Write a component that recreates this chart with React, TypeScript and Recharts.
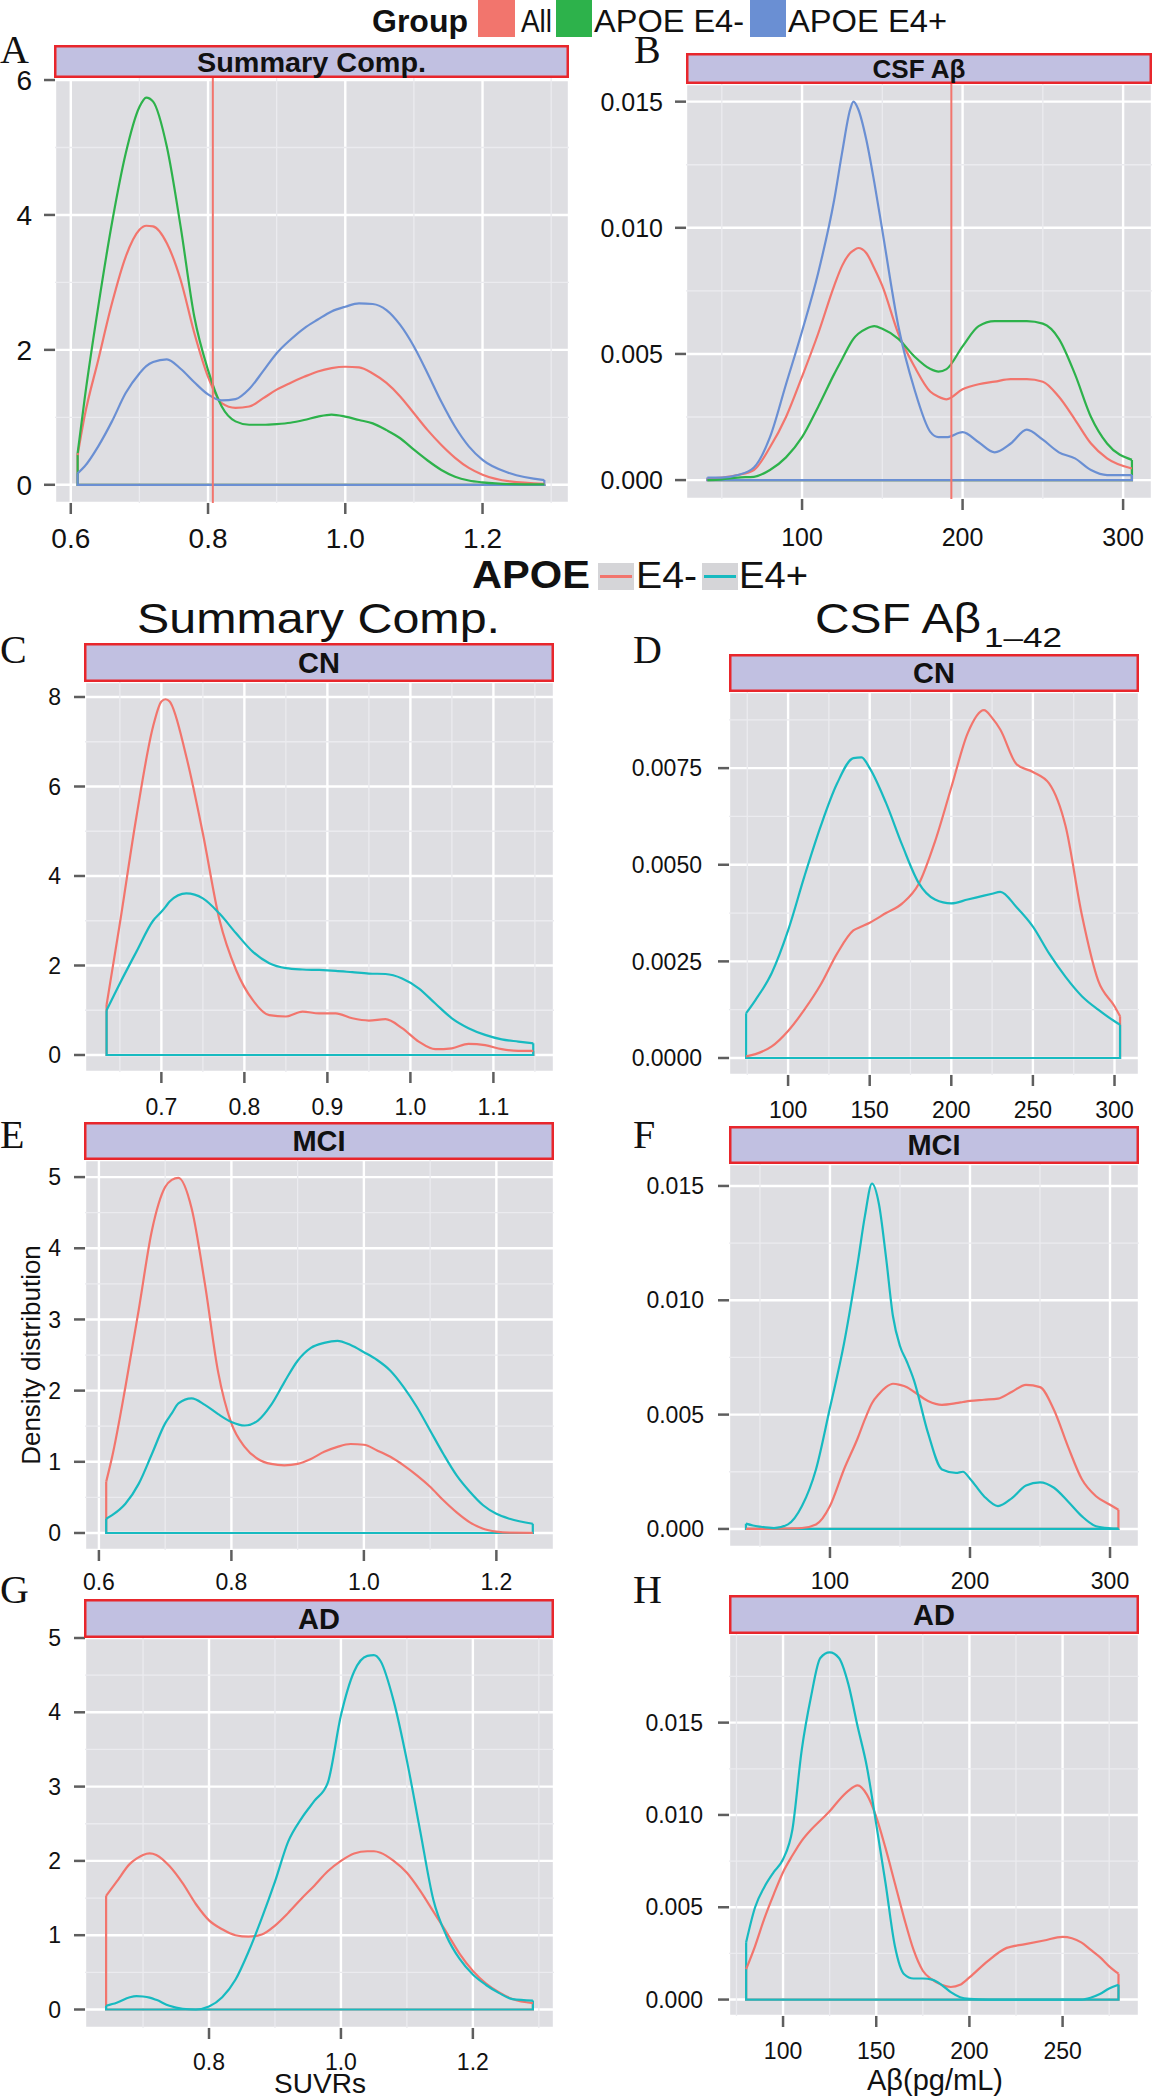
import React from "react";
import { LineChart, Line, XAxis, YAxis, CartesianGrid, ReferenceLine } from "recharts";

const RED = "#F2756D";
const GREEN = "#2DB24B";
const BLUE = "#6A8FD3";
const TEAL = "#17BAC0";
const PANEL_BG = "#DEDEE2";
const MINOR = "#EBEBEF";
const STRIP_BG = "#C1C0E1";
const STRIP_BORDER = "#E8262C";
const TICK = "#5E5E5E";
const INK = "#111111";
const SANS = "'Liberation Sans', Arial, Helvetica, sans-serif";
const SERIF = "'Liberation Serif', 'Times New Roman', serif";

// A: Summary Comp., all groups
const aX = [0.61, 0.62, 0.64, 0.66, 0.68, 0.70, 0.71, 0.72, 0.74, 0.76, 0.78, 0.80, 0.82, 0.84, 0.86, 0.88, 0.90, 0.92, 0.94, 0.96, 0.98, 1.00, 1.02, 1.04, 1.06, 1.08, 1.10, 1.12, 1.14, 1.16, 1.18, 1.20, 1.24, 1.29];
const aAll = [0.44, 1.01, 1.85, 2.69, 3.38, 3.78, 3.84, 3.83, 3.58, 3.04, 2.25, 1.60, 1.21, 1.14, 1.16, 1.28, 1.41, 1.51, 1.60, 1.68, 1.73, 1.75, 1.74, 1.65, 1.51, 1.31, 1.06, 0.81, 0.59, 0.40, 0.25, 0.15, 0.05, 0.015];
const aNeg = [0.47, 1.26, 2.64, 3.88, 4.91, 5.60, 5.74, 5.68, 5.01, 3.83, 2.49, 1.70, 1.16, 0.94, 0.89, 0.89, 0.90, 0.92, 0.96, 1.01, 1.04, 1.01, 0.96, 0.91, 0.81, 0.69, 0.52, 0.36, 0.22, 0.12, 0.064, 0.035, 0.01, 0.005];
const aPos = [0.17, 0.27, 0.57, 0.94, 1.36, 1.65, 1.76, 1.82, 1.86, 1.72, 1.52, 1.34, 1.25, 1.27, 1.42, 1.68, 1.95, 2.15, 2.32, 2.45, 2.57, 2.64, 2.69, 2.68, 2.59, 2.37, 2.05, 1.65, 1.23, 0.86, 0.57, 0.37, 0.17, 0.07];
const aCut = 0.807;

// B: CSF Abeta, all groups
const bX = [41, 50, 60, 70, 80, 90, 100, 110, 120, 125, 130, 132, 135, 140, 145, 150, 160, 170, 180, 185, 190, 200, 210, 220, 230, 240, 250, 260, 270, 280, 290, 305.5];
const bAll = [0.00005, 0.0001, 0.0002, 0.0004, 0.0013, 0.0025, 0.0041, 0.0058, 0.0077, 0.0085, 0.0090, 0.0091, 0.0092, 0.0090, 0.0084, 0.0077, 0.0058, 0.0045, 0.0035, 0.0033, 0.0032, 0.0036, 0.0038, 0.0039, 0.0040, 0.0040, 0.0039, 0.0033, 0.0024, 0.00145, 0.00086, 0.00046];
const bNeg = [0, 0.00003, 0.0001, 0.00013, 0.0004, 0.0009, 0.0017, 0.0029, 0.0042, 0.0048, 0.0054, 0.0056, 0.0058, 0.0060, 0.0061, 0.0060, 0.0056, 0.0049, 0.0044, 0.0043, 0.0044, 0.0053, 0.0061, 0.0063, 0.0063, 0.0063, 0.0062, 0.0056, 0.0042, 0.0025, 0.00145, 0.0008];
const bPos = [0.0001, 0.0001, 0.0002, 0.0005, 0.0017, 0.0038, 0.0059, 0.0082, 0.0111, 0.0130, 0.0147, 0.0150, 0.0147, 0.0135, 0.0118, 0.0099, 0.0061, 0.0036, 0.0019, 0.0017, 0.0017, 0.0019, 0.0015, 0.0011, 0.00145, 0.0020, 0.0016, 0.0011, 0.00086, 0.0004, 0.0002, 0.0002];
const bCut = 193;

// C: Summary Comp., CN
const cX = [0.634, 0.65, 0.67, 0.69, 0.70, 0.705, 0.71, 0.73, 0.75, 0.77, 0.79, 0.81, 0.83, 0.85, 0.87, 0.89, 0.91, 0.93, 0.95, 0.97, 0.99, 1.01, 1.03, 1.05, 1.07, 1.09, 1.11, 1.13, 1.148];
const cNeg = [1.12, 2.94, 5.33, 7.34, 7.9, 7.95, 7.9, 6.67, 4.95, 3.02, 1.90, 1.23, 0.89, 0.86, 0.97, 0.93, 0.93, 0.82, 0.77, 0.80, 0.60, 0.30, 0.13, 0.15, 0.25, 0.22, 0.13, 0.09, 0.09];
const cPos = [1.0, 1.60, 2.31, 3.0, 3.2, 3.31, 3.43, 3.61, 3.50, 3.16, 2.72, 2.31, 2.05, 1.94, 1.91, 1.90, 1.88, 1.85, 1.82, 1.81, 1.71, 1.49, 1.15, 0.82, 0.60, 0.45, 0.35, 0.30, 0.26];

// D: CSF Abeta 1-42, CN
const dX = [74.3, 80, 90, 100, 110, 120, 130, 140, 145, 150, 160, 170, 180, 190, 200, 210, 220, 225, 230, 240, 250, 260, 270, 280, 290, 300, 303.4];
const dNeg = [0.00004, 0.0001, 0.0003, 0.0007, 0.00125, 0.0019, 0.0027, 0.0033, 0.0034, 0.0035, 0.00375, 0.0040, 0.0045, 0.0056, 0.0070, 0.0084, 0.0090, 0.0088, 0.0085, 0.0076, 0.0074, 0.0071, 0.0060, 0.0037, 0.0020, 0.00134, 0.00108];
const dPos = [0.00116, 0.0015, 0.0022, 0.0033, 0.0047, 0.0060, 0.0071, 0.00776, 0.00778, 0.0075, 0.0066, 0.0055, 0.00453, 0.0041, 0.0040, 0.0041, 0.0042, 0.00425, 0.0043, 0.0039, 0.0034, 0.0027, 0.0021, 0.0016, 0.00125, 0.00095, 0.00086];

// E: Summary Comp., MCI
const eX = [0.611, 0.62, 0.64, 0.66, 0.68, 0.70, 0.71, 0.72, 0.74, 0.76, 0.78, 0.80, 0.82, 0.84, 0.86, 0.88, 0.90, 0.92, 0.94, 0.96, 0.98, 1.00, 1.02, 1.04, 1.06, 1.08, 1.10, 1.12, 1.14, 1.16, 1.18, 1.20, 1.22, 1.255];
const eNeg = [0.72, 1.07, 2.05, 3.13, 4.25, 4.86, 4.96, 4.99, 4.56, 3.50, 2.26, 1.54, 1.21, 1.04, 0.97, 0.95, 0.97, 1.04, 1.14, 1.21, 1.25, 1.24, 1.16, 1.07, 0.95, 0.81, 0.65, 0.46, 0.29, 0.15, 0.06, 0.02, 0.005, 0.002];
const ePos = [0.2, 0.25, 0.41, 0.69, 1.11, 1.54, 1.68, 1.82, 1.89, 1.80, 1.67, 1.56, 1.51, 1.58, 1.80, 2.12, 2.42, 2.60, 2.67, 2.70, 2.64, 2.54, 2.43, 2.28, 2.05, 1.77, 1.44, 1.11, 0.81, 0.58, 0.39, 0.27, 0.20, 0.13];

// F: CSF Abeta 1-42, MCI
const fX = [40, 45, 50, 60, 70, 80, 90, 100, 110, 120, 125, 130, 135, 140, 145, 150, 155, 160, 170, 180, 190, 195, 200, 210, 220, 230, 240, 250, 260, 270, 280, 290, 300, 306];
const fNeg = [0, 0, 0, 0.00001, 0.00002, 0.00004, 0.00019, 0.001, 0.0026, 0.004, 0.0048, 0.0055, 0.0059, 0.0062, 0.00635, 0.0063, 0.0062, 0.0060, 0.0056, 0.00543, 0.0055, 0.00555, 0.0056, 0.00565, 0.0057, 0.006, 0.0063, 0.0062, 0.0052, 0.0036, 0.00216, 0.00143, 0.00106, 0.00084];
const fPos = [0.00023, 0.00015, 0.0001, 0.00004, 0.0002, 0.001, 0.0026, 0.0053, 0.0081, 0.0117, 0.0137, 0.0151, 0.0142, 0.0119, 0.0093, 0.0080, 0.0073, 0.0065, 0.0042, 0.0026, 0.00245, 0.0025, 0.0022, 0.00143, 0.001, 0.00135, 0.0019, 0.00204, 0.0018, 0.0012, 0.00055, 0.00012, 0.00003, 0.00001];

// G: Summary Comp., AD
const gX = [0.644, 0.66, 0.68, 0.69, 0.70, 0.71, 0.72, 0.74, 0.76, 0.78, 0.80, 0.82, 0.84, 0.86, 0.88, 0.90, 0.92, 0.94, 0.96, 0.98, 1.00, 1.02, 1.04, 1.05, 1.06, 1.08, 1.10, 1.12, 1.14, 1.16, 1.18, 1.20, 1.22, 1.24, 1.26, 1.291];
const gNeg = [1.53, 1.72, 1.96, 2.03, 2.08, 2.10, 2.08, 1.93, 1.70, 1.42, 1.20, 1.08, 1.00, 0.98, 1.01, 1.13, 1.30, 1.49, 1.67, 1.86, 2.00, 2.10, 2.13, 2.13, 2.11, 2.00, 1.84, 1.60, 1.32, 1.04, 0.75, 0.52, 0.35, 0.23, 0.14, 0.085];
const gPos = [0.05, 0.09, 0.165, 0.18, 0.175, 0.16, 0.13, 0.05, 0.01, 0.0, 0.04, 0.165, 0.40, 0.78, 1.23, 1.72, 2.26, 2.57, 2.81, 3.05, 3.96, 4.55, 4.76, 4.77, 4.69, 4.15, 3.35, 2.41, 1.48, 0.99, 0.68, 0.47, 0.33, 0.22, 0.14, 0.12];

// H: CSF Abeta 1-42, AD
const hX = [80.2, 85, 90, 95, 100, 105, 110, 115, 120, 125, 130, 135, 140, 145, 150, 155, 160, 165, 170, 175, 180, 185, 190, 195, 200, 210, 220, 230, 240, 250, 260, 265, 270, 275, 280];
const hNeg = [0.00165, 0.0029, 0.0044, 0.0057, 0.0069, 0.0078, 0.0086, 0.0092, 0.0097, 0.0102, 0.0108, 0.0113, 0.0116, 0.0111, 0.0099, 0.0082, 0.0063, 0.0044, 0.0027, 0.00156, 0.00108, 0.0008, 0.00068, 0.0008, 0.0012, 0.0021, 0.0028, 0.003, 0.0032, 0.0034, 0.0031, 0.0027, 0.0023, 0.0018, 0.0014];
const hPos = [0.0031, 0.005, 0.0061, 0.0069, 0.0076, 0.0092, 0.0135, 0.0164, 0.0185, 0.0188, 0.0185, 0.0171, 0.0148, 0.0126, 0.0095, 0.0063, 0.0029, 0.00137, 0.00114, 0.00114, 0.00108, 0.0008, 0.0004, 0.00013, 0.00004, 0, 0, 0, 0, 0, 0, 0.0001, 0.0003, 0.0006, 0.0008];

type Curve = { xs: number[]; ys: number[]; color: string };
type Panel = {
  id: string;
  left: number; top: number; width: number; height: number;
  xDomain: [number, number]; yDomain: [number, number];
  xTicks: number[]; xMinor: number[]; yTicks: number[]; yMinor: number[];
  xDec: number; yDec: number;
  font: number; xMargin: number; yMargin: number;
  curves: Curve[];
  cut?: number;
};

const PANELS: Panel[] = [
  { id: "A", left: 55, top: 78, width: 514, height: 425, xDomain: [0.577, 1.326], yDomain: [-0.27, 6.03],
    xTicks: [0.6, 0.8, 1.0, 1.2], xMinor: [0.7, 0.9, 1.1, 1.3], yTicks: [0, 2, 4, 6], yMinor: [1, 3, 5],
    xDec: 1, yDec: 0, font: 28, xMargin: 14, yMargin: 12, cut: aCut,
    curves: [{ xs: aX, ys: aAll, color: RED }, { xs: aX, ys: aNeg, color: GREEN }, { xs: aX, ys: aPos, color: BLUE }] },
  { id: "B", left: 686, top: 84, width: 466, height: 415, xDomain: [27.7, 318], yDomain: [-0.00075, 0.0157],
    xTicks: [100, 200, 300], xMinor: [50, 150, 250], yTicks: [0, 0.005, 0.01, 0.015], yMinor: [0.0025, 0.0075, 0.0125],
    xDec: 0, yDec: 3, font: 25, xMargin: 18, yMargin: 12, cut: bCut,
    curves: [{ xs: bX, ys: bAll, color: RED }, { xs: bX, ys: bNeg, color: GREEN }, { xs: bX, ys: bPos, color: BLUE }] },
  { id: "C", left: 85, top: 682, width: 469, height: 390, xDomain: [0.608, 1.173], yDomain: [-0.38, 8.335],
    xTicks: [0.7, 0.8, 0.9, 1.0, 1.1], xMinor: [0.65, 0.75, 0.85, 0.95, 1.05, 1.15], yTicks: [0, 2, 4, 6, 8], yMinor: [1, 3, 5, 7],
    xDec: 1, yDec: 0, font: 23, xMargin: 16, yMargin: 13,
    curves: [{ xs: cX, ys: cNeg, color: RED }, { xs: cX, ys: cPos, color: TEAL }] },
  { id: "D", left: 729, top: 692, width: 410, height: 383, xDomain: [63.8, 315], yDomain: [-0.00044, 0.00947],
    xTicks: [100, 150, 200, 250, 300], xMinor: [75, 125, 175, 225, 275], yTicks: [0, 0.0025, 0.005, 0.0075], yMinor: [0.00125, 0.00375, 0.00625, 0.00875],
    xDec: 0, yDec: 4, font: 23, xMargin: 16, yMargin: 16,
    curves: [{ xs: dX, ys: dNeg, color: RED }, { xs: dX, ys: dPos, color: TEAL }] },
  { id: "E", left: 85, top: 1160, width: 469, height: 390, xDomain: [0.579, 1.287], yDomain: [-0.239, 5.24],
    xTicks: [0.6, 0.8, 1.0, 1.2], xMinor: [0.7, 0.9, 1.1], yTicks: [0, 1, 2, 3, 4, 5], yMinor: [0.5, 1.5, 2.5, 3.5, 4.5],
    xDec: 1, yDec: 0, font: 23, xMargin: 13, yMargin: 13,
    curves: [{ xs: eX, ys: eNeg, color: RED }, { xs: eX, ys: ePos, color: TEAL }] },
  { id: "F", left: 729, top: 1164, width: 410, height: 383, xDomain: [27.9, 320.7], yDomain: [-0.00079, 0.01596],
    xTicks: [100, 200, 300], xMinor: [50, 150, 250], yTicks: [0, 0.005, 0.01, 0.015], yMinor: [0.0025, 0.0075, 0.0125],
    xDec: 0, yDec: 3, font: 23, xMargin: 15, yMargin: 14,
    curves: [{ xs: fX, ys: fNeg, color: RED }, { xs: fX, ys: fPos, color: TEAL }] },
  { id: "G", left: 85, top: 1638, width: 469, height: 390, xDomain: [0.612, 1.323], yDomain: [-0.249, 5.0],
    xTicks: [0.8, 1.0, 1.2], xMinor: [0.7, 0.9, 1.1, 1.3], yTicks: [0, 1, 2, 3, 4, 5], yMinor: [0.5, 1.5, 2.5, 3.5, 4.5],
    xDec: 1, yDec: 0, font: 23, xMargin: 15, yMargin: 13,
    curves: [{ xs: gX, ys: gNeg, color: RED }, { xs: gX, ys: gPos, color: TEAL }] },
  { id: "H", left: 729, top: 1634, width: 410, height: 382, xDomain: [71, 291], yDomain: [-0.00089, 0.0198],
    xTicks: [100, 150, 200, 250], xMinor: [75, 125, 175, 225, 275], yTicks: [0, 0.005, 0.01, 0.015], yMinor: [0.0025, 0.0075, 0.0125, 0.0175],
    xDec: 0, yDec: 3, font: 23, xMargin: 16, yMargin: 15,
    curves: [{ xs: hX, ys: hNeg, color: RED }, { xs: hX, ys: hPos, color: TEAL }] },
];

// strip boxes above each panel: [left, top, width, height, label, fontSize, textLength]
const STRIPS: [number, number, number, number, string, number, number?][] = [
  [54, 45, 515, 33, "Summary Comp.", 28, 229],
  [686, 53, 466, 31, "CSF Aβ", 26, 93],
  [84, 643, 470, 39, "CN", 29],
  [729, 654, 410, 38, "CN", 29],
  [84, 1122, 470, 38, "MCI", 29],
  [729, 1126, 410, 38, "MCI", 29],
  [84, 1599, 470, 39, "AD", 29],
  [729, 1595, 410, 39, "AD", 29],
];

// panel letters: [letter, x, baseline]
const LETTERS: [string, number, number][] = [
  ["A", 0, 63], ["B", 634, 63], ["C", 0, 663], ["D", 633, 663],
  ["E", 0, 1148], ["F", 633, 1148], ["G", 0, 1603], ["H", 633, 1603],
];

const toPoints = (xs: number[], ys: number[]) => xs.map((x, i) => ({ x, y: ys[i] }));
const toOutline = (xs: number[], ys: number[]) => {
  const n = xs.length - 1;
  return [
    { x: xs[0], y: ys[0] },
    { x: xs[0], y: 0 },
    { x: xs[n], y: 0 },
    { x: xs[n], y: ys[n] },
  ];
};

const YW = 100;
const XH = 70;
const TOP_PAD = 20;

function DensityPanel({ p }: { p: Panel }) {
  const tickStyle = { fill: INK, fontSize: p.font, fontFamily: SANS };
  const inX = (v: number) => v > p.xDomain[0] && v < p.xDomain[1];
  const inY = (v: number) => v > p.yDomain[0] && v < p.yDomain[1];
  return (
    <div style={{ position: "absolute", left: p.left - YW, top: p.top - TOP_PAD }}>
      <LineChart
        width={YW + p.width}
        height={p.height + XH + TOP_PAD}
        margin={{ top: TOP_PAD, right: 0, bottom: 0, left: 0 }}
        style={{ overflow: "visible" }}
      >
        <CartesianGrid fill={PANEL_BG} fillOpacity={1} stroke="#FFFFFF" strokeWidth={2.4} />
        {p.xMinor.filter(inX).map((v) => (
          <ReferenceLine key={"xm" + v} x={v} stroke={MINOR} strokeWidth={1.3} />
        ))}
        {p.yMinor.filter(inY).map((v) => (
          <ReferenceLine key={"ym" + v} y={v} stroke={MINOR} strokeWidth={1.3} />
        ))}
        <XAxis
          type="number"
          dataKey="x"
          domain={p.xDomain}
          ticks={p.xTicks}
          interval={0}
          allowDataOverflow
          height={XH}
          axisLine={false}
          tickSize={11}
          tickMargin={p.xMargin}
          tickLine={{ stroke: TICK, strokeWidth: 2.5 }}
          tick={tickStyle}
          tickFormatter={(v: number) => v.toFixed(p.xDec)}
        />
        <YAxis
          type="number"
          dataKey="y"
          domain={p.yDomain}
          ticks={p.yTicks}
          interval={0}
          allowDataOverflow
          width={YW}
          axisLine={false}
          tickSize={11}
          tickMargin={p.yMargin}
          tickLine={{ stroke: TICK, strokeWidth: 2.5 }}
          tick={tickStyle}
          tickFormatter={(v: number) => v.toFixed(p.yDec)}
        />
        {p.curves.map((c, i) => (
          <Line
            key={"o" + i}
            data={toOutline(c.xs, c.ys)}
            dataKey="y"
            type="linear"
            stroke={c.color}
            strokeWidth={2.2}
            dot={false}
            activeDot={false}
            isAnimationActive={false}
          />
        ))}
        {p.curves.map((c, i) => (
          <Line
            key={"c" + i}
            data={toPoints(c.xs, c.ys)}
            dataKey="y"
            type="monotone"
            stroke={c.color}
            strokeWidth={2.2}
            dot={false}
            activeDot={false}
            isAnimationActive={false}
          />
        ))}
        {p.cut != null && <ReferenceLine x={p.cut} stroke={RED} strokeWidth={2} />}
      </LineChart>
    </div>
  );
}

function Overlay() {
  return (
    <svg
      width={1155}
      height={2100}
      style={{ position: "absolute", left: 0, top: 0, pointerEvents: "none" }}
      fontFamily={SANS}
    >
      {/* top legend */}
      <text x={372} y={32} fontSize={32} fontWeight="bold" fill={INK} textLength={96} lengthAdjust="spacingAndGlyphs">Group</text>
      <rect x={478} y={0} width={37} height={37} fill={RED} />
      <text x={521} y={32} fontSize={32} fill={INK} textLength={31} lengthAdjust="spacingAndGlyphs">All</text>
      <rect x={556} y={0} width={36} height={37} fill={GREEN} />
      <text x={594} y={32} fontSize={32} fill={INK} textLength={150} lengthAdjust="spacingAndGlyphs">APOE E4-</text>
      <rect x={750} y={0} width={36} height={37} fill={BLUE} />
      <text x={788} y={32} fontSize={32} fill={INK} textLength={159} lengthAdjust="spacingAndGlyphs">APOE E4+</text>

      {/* middle legend */}
      <text x={472} y={588} fontSize={38} fontWeight="bold" fill={INK} textLength={118} lengthAdjust="spacingAndGlyphs">APOE</text>
      <rect x={598} y={563} width={36} height={27} fill="#D5D5D8" />
      <line x1={600} x2={632} y1={576.5} y2={576.5} stroke={RED} strokeWidth={3} />
      <text x={636} y={588} fontSize={37} fill={INK} textLength={61} lengthAdjust="spacingAndGlyphs">E4-</text>
      <rect x={702} y={563} width={36} height={27} fill="#D5D5D8" />
      <line x1={704} x2={736} y1={576.5} y2={576.5} stroke={TEAL} strokeWidth={3} />
      <text x={739} y={588} fontSize={37} fill={INK} textLength={69} lengthAdjust="spacingAndGlyphs">E4+</text>

      {/* column titles */}
      <text x={137} y={633} fontSize={43} fill={INK} textLength={363} lengthAdjust="spacingAndGlyphs">Summary Comp.</text>
      <text x={815} y={633} fontSize={43} fill={INK} textLength={166} lengthAdjust="spacingAndGlyphs">CSF Aβ</text>
      <text x={984} y={647} fontSize={28} fill={INK} textLength={78} lengthAdjust="spacingAndGlyphs">1–42</text>

      {/* strips */}
      {STRIPS.map(([x, y, w, h, label, fs, tl], i) => (
        <g key={"s" + i}>
          <rect x={x + 1.25} y={y + 1.25} width={w - 2.5} height={h - 2.5} fill={STRIP_BG} stroke={STRIP_BORDER} strokeWidth={2.5} />
          <text
            x={x + w / 2}
            y={y + h / 2 + fs * 0.36}
            fontSize={fs}
            fontWeight="bold"
            fill={INK}
            textAnchor="middle"
            textLength={tl}
            lengthAdjust={tl ? "spacingAndGlyphs" : undefined}
          >
            {label}
          </text>
        </g>
      ))}

      {/* panel letters */}
      {LETTERS.map(([l, x, y]) => (
        <text key={l} x={x} y={y} fontSize={40} fontFamily={SERIF} fill={INK}>{l}</text>
      ))}

      {/* axis titles */}
      <text transform="translate(40,1355) rotate(-90)" fontSize={26} fill={INK} textAnchor="middle">Density distribution</text>
      <text x={320} y={2093} fontSize={28} fill={INK} textAnchor="middle">SUVRs</text>
      <text x={935} y={2090} fontSize={29} fill={INK} textAnchor="middle">Aβ(pg/mL)</text>
    </svg>
  );
}

export default function App() {
  return (
    <div style={{ position: "absolute", left: 0, top: 0, width: 1155, height: 2100, background: "#FFFFFF", overflow: "hidden" }}>
      {PANELS.map((p) => (
        <DensityPanel key={p.id} p={p} />
      ))}
      <Overlay />
    </div>
  );
}
